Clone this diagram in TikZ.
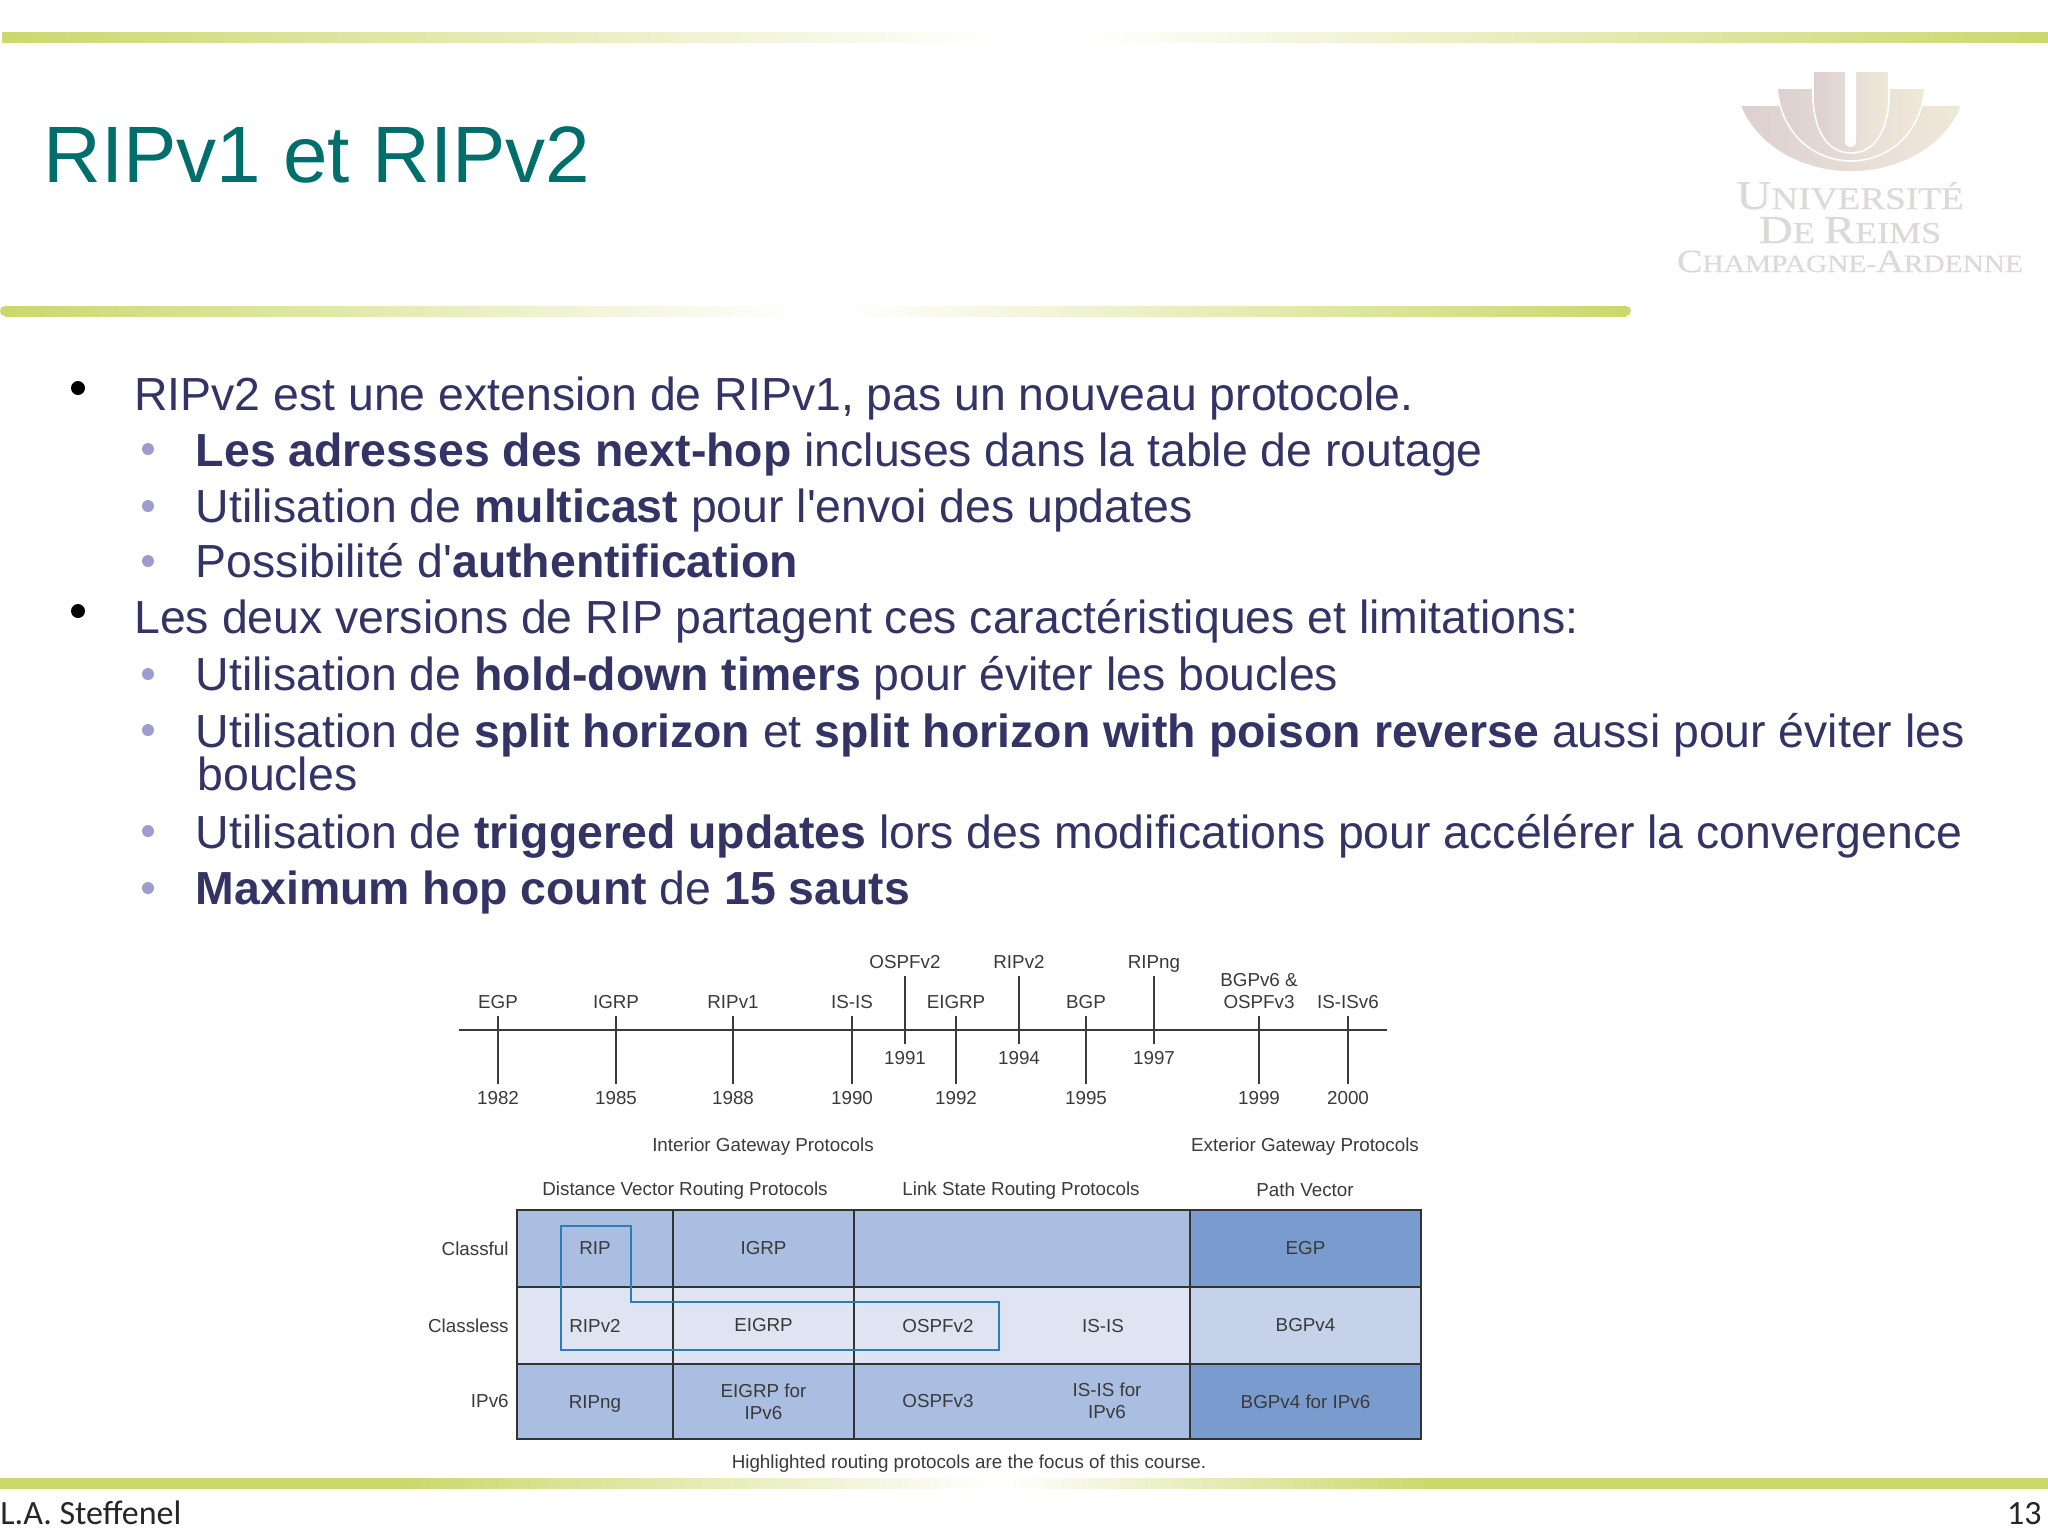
\documentclass[tikz,border=0pt]{standalone}
\usepackage{fontspec}
\setmainfont{Liberation Sans}
\newfontfamily\footfont{Carlito}
\newfontfamily\logofont[FakeStretch=1.185,FakeBold=0.6]{Liberation Serif}
\definecolor{barolive}{HTML}{CBD86C}
\definecolor{slideteal}{HTML}{006E6A}
\definecolor{slidenavy}{HTML}{333366}
\definecolor{sublav}{HTML}{9C9CCE}
\definecolor{cellmid}{HTML}{A9BEE0}
\definecolor{celllight}{HTML}{DFE4F2}
\definecolor{celldark}{HTML}{7A9BCE}
\definecolor{cellpale}{HTML}{C5D2EA}
\definecolor{hiblue}{HTML}{2A7DB5}
\definecolor{figtext}{HTML}{3A3A3A}
\definecolor{logoa}{HTML}{DDD0D0}
\definecolor{logob}{HTML}{EFE9D9}
\definecolor{logotext}{HTML}{DFD8D8}
\tikzset{
  mainline/.style={anchor=base west,inner sep=0pt,text=slidenavy,font=\fontsize{23.2}{28}\selectfont},
  maindot/.style={circle,fill=black,inner sep=0pt,minimum size=7pt},
  subdot/.style={circle,fill=sublav,inner sep=0pt,minimum size=6pt},
  figlabel/.style={inner sep=0pt,text=figtext,font=\fontsize{9.4}{11}\selectfont,align=center},
  yearlabel/.style={figlabel,minimum height=14pt},
  protolabel/.style={figlabel,anchor=south,inner ysep=3.5pt,text depth=0pt},
  tick/.style={line width=0.6pt,draw=figtext},
  cell/.style={draw=black!80,line width=0.7pt},
  logopart/.style={draw=white,line width=0.8pt,left color=logoa,right color=logob},
  logoline/.style={inner sep=0pt,anchor=base,text=logotext}
}
\newcommand{\capfont}[2]{{\logofont\fontsize{#1}{#1}\selectfont #2}}
\begin{document}
\begin{tikzpicture}[x=0.5pt,y=-0.5pt]
  \useasboundingbox (0,0) rectangle (2048,1537);
  % bars
  \fill[left color=barolive,right color=white] (2,32) rectangle (1000,42);
  \fill[left color=white,right color=barolive] (1080,32) rectangle (2048,42);
  \fill[barolive] (5,311) circle (5);
  \fill[left color=barolive,right color=white] (5,306) rectangle (800,316);
  \fill[left color=white,right color=barolive] (840,306) rectangle (1626,316);
  \fill[barolive] (1626,311) circle (5);
  \fill[left color=barolive,right color=barolive] (0,1478) rectangle (400,1488);
  \fill[left color=barolive,right color=white] (400,1478) rectangle (1000,1488);
  \fill[left color=white,right color=barolive] (1000,1478) rectangle (1430,1488);
  \fill[left color=barolive,right color=barolive] (1430,1478) rectangle (2048,1488);

  % title and logo
  \node[anchor=base west,inner sep=0pt,text=slideteal,font=\fontsize{40}{48}\selectfont] (title) at (43,182) {RIPv1 et RIPv2};
  \path[logopart] (1740,105) -- (1962,105) .. controls (1947,145) and (1902,172) .. (1851,172) .. controls (1800,172) and (1755,145) .. (1740,105) -- cycle;
  \path[logopart] (1777,88) -- (1925,88) .. controls (1920,140) and (1882,161) .. (1851,161) .. controls (1820,161) and (1782,140) .. (1777,88) -- cycle;
  \path[logopart] (1813,71) -- (1889,71) -- (1889,100) .. controls (1887,135) and (1872,153) .. (1851,153) .. controls (1830,153) and (1815,135) .. (1813,100) -- cycle;
  \fill[white,rounded corners=2.5pt] (1845,68) rectangle (1856,147);
  \node[logoline] (logo-a) at (1850,209) {\capfont{20.5}{U}\capfont{15.7}{NIVERSIT}\capfont{15.7}{É}};
  \node[logoline] (logo-b) at (1850,243) {\capfont{19.8}{D}\capfont{15.2}{E }\capfont{19.8}{R}\capfont{15.2}{EIMS}};
  \node[logoline] (logo-c) at (1850,272) {\capfont{16.2}{C}\capfont{12.4}{HAMPAGNE-}\capfont{16.2}{A}\capfont{12.4}{RDENNE}};

  % bullet text
  \node[maindot] (dot-1) at (78,388) {};
  \node[mainline] (line-1) at (134,410) {RIPv2 est une extension de RIPv1, pas un nouveau protocole.};
  \node[subdot] (dot-2) at (148,449) {};
  \node[mainline] (line-2) at (195.5,466) {\textbf{Les adresses des next-hop} incluses dans la table de routage};
  \node[subdot] (dot-3) at (148,506) {};
  \node[mainline] (line-3) at (195.5,522) {Utilisation de \textbf{multicast} pour l\textquotesingle envoi des updates};
  \node[subdot] (dot-4) at (148,561) {};
  \node[mainline] (line-4) at (195.5,577) {Possibilité d\textquotesingle\textbf{authentification}};
  \node[maindot] (dot-5) at (78,611) {};
  \node[mainline] (line-5) at (134,633) {Les deux versions de RIP partagent ces caractéristiques et limitations:};
  \node[subdot] (dot-6) at (148,674) {};
  \node[mainline] (line-6) at (195.5,690) {Utilisation de \textbf{hold-down timers} pour éviter les boucles};
  \node[subdot] (dot-7) at (148,730) {};
  \node[mainline] (line-7) at (195.5,747) {Utilisation de \textbf{split horizon} et \textbf{split horizon with poison reverse} aussi pour éviter les};
  \node[mainline] (line-7b) at (197,790) {boucles};
  \node[subdot] (dot-8) at (148,831) {};
  \node[mainline] (line-8) at (195.5,848) {Utilisation de \textbf{triggered updates} lors des modifications pour accélérer la convergence};
  \node[subdot] (dot-9) at (148,888) {};
  \node[mainline] (line-9) at (195.5,904) {\textbf{Maximum hop count} de \textbf{15 sauts}};

  % timeline
  \coordinate (axis-l) at (459,1030);
  \coordinate (axis-r) at (1387,1030);
  \draw[line width=1pt,draw=figtext] (axis-l) -- (axis-r);

  \node[protolabel] (egp) at (498,1016) {EGP};
  \node[yearlabel] (y-1982) at (498,1098) {1982};
  \node[protolabel] (igrp) at (616,1016) {IGRP};
  \node[yearlabel] (y-1985) at (616,1098) {1985};
  \node[protolabel] (ripv1) at (733,1016) {RIPv1};
  \node[yearlabel] (y-1988) at (733,1098) {1988};
  \node[protolabel] (isis) at (852,1016) {IS-IS};
  \node[yearlabel] (y-1990) at (852,1098) {1990};
  \node[protolabel] (ospfv2) at (905,976) {OSPFv2};
  \node[yearlabel] (y-1991) at (905,1058) {1991};
  \node[protolabel] (eigrp) at (956,1016) {EIGRP};
  \node[yearlabel] (y-1992) at (956,1098) {1992};
  \node[protolabel] (ripv2) at (1019,976) {RIPv2};
  \node[yearlabel] (y-1994) at (1019,1058) {1994};
  \node[protolabel] (bgp) at (1086,1016) {BGP};
  \node[yearlabel] (y-1995) at (1086,1098) {1995};
  \node[protolabel] (ripng) at (1154,976) {RIPng};
  \node[yearlabel] (y-1997) at (1154,1058) {1997};
  \node[protolabel] (bgpv6) at (1259,1016) {BGPv6 \&\\OSPFv3};
  \node[yearlabel] (y-1999) at (1259,1098) {1999};
  \node[protolabel] (isisv6) at (1348,1016) {IS-ISv6};
  \node[yearlabel] (y-2000) at (1348,1098) {2000};

  \draw[tick] (egp) -- (y-1982);
  \draw[tick] (igrp) -- (y-1985);
  \draw[tick] (ripv1) -- (y-1988);
  \draw[tick] (isis) -- (y-1990);
  \draw[tick] (ospfv2) -- (y-1991);
  \draw[tick] (eigrp) -- (y-1992);
  \draw[tick] (ripv2) -- (y-1994);
  \draw[tick] (bgp) -- (y-1995);
  \draw[tick] (ripng) -- (y-1997);
  \draw[tick] (bgpv6) -- (y-1999);
  \draw[tick] (isisv6) -- (y-2000);

  % table headings
  \node[figlabel] (head-igp) at (763,1147) {Interior Gateway Protocols};
  \node[figlabel] (head-egp) at (1305,1147) {Exterior Gateway Protocols};
  \node[figlabel] (head-dv) at (685,1191) {Distance Vector Routing Protocols};
  \node[figlabel] (head-ls) at (1021,1191) {Link State Routing Protocols};
  \node[figlabel] (head-pv) at (1305,1190) {Path Vector};

  % table cells
  \draw[cell,fill=cellmid] (517,1210) rectangle (673,1287) node[midway,figlabel] (rip) {RIP};
  \draw[cell,fill=cellmid] (673,1210) rectangle (854,1287) node[midway,figlabel] (igrp-c) {IGRP};
  \draw[cell,fill=cellmid] (854,1210) rectangle (1190,1287);
  \draw[cell,fill=celldark] (1190,1210) rectangle (1421,1287) node[midway,figlabel] (egp-c) {EGP};
  \draw[cell,fill=celllight] (517,1287) rectangle (673,1364) node[midway,figlabel] (ripv2-c) {RIPv2};
  \draw[cell,fill=celllight] (673,1287) rectangle (854,1364) node[midway,figlabel] (eigrp-c) {EIGRP};
  \draw[cell,fill=celllight] (854,1287) rectangle (1190,1364);
  \draw[cell,fill=cellpale] (1190,1287) rectangle (1421,1364) node[midway,figlabel] (bgpv4-c) {BGPv4};
  \draw[cell,fill=cellmid] (517,1364) rectangle (673,1439) node[midway,figlabel,yshift=-1pt] (ripng-c) {RIPng};
  \draw[cell,fill=cellmid] (673,1364) rectangle (854,1439) node[midway,figlabel] (eigrp6-c) {EIGRP for\\IPv6};
  \draw[cell,fill=cellmid] (854,1364) rectangle (1190,1439);
  \draw[cell,fill=celldark] (1190,1364) rectangle (1421,1439) node[midway,figlabel] (bgp6-c) {BGPv4 for IPv6};
  \node[figlabel] (ospfv2-c) at (938,1326) {OSPFv2};
  \node[figlabel] (isis-c) at (1103,1326) {IS-IS};
  \node[figlabel] (ospfv3-c) at (938,1401) {OSPFv3};
  \node[figlabel] (isis6-c) at (1107,1401) {IS-IS for\\IPv6};

  % row labels
  \node[figlabel,anchor=east] (row-1) at (509,1249) {Classful};
  \node[figlabel,anchor=east] (row-2) at (509,1326) {Classless};
  \node[figlabel,anchor=east] (row-3) at (509,1401) {IPv6};

  % highlighted protocols
  \draw[draw=hiblue,line width=0.9pt] (561,1226) -- (631,1226) -- (631,1302) -- (999,1302) -- (999,1350) -- (561,1350) -- cycle;

  \node[figlabel] (caption) at (969,1464) {Highlighted routing protocols are the focus of this course.};

  % footer
  \node[anchor=base west,inner sep=0pt,font=\footfont\fontsize{17}{20}\selectfont,text=black!85] (foot-a) at (0,1524) {L.A. Steffenel};
  \node[anchor=base east,inner sep=0pt,font=\footfont\fontsize{17}{20}\selectfont,text=black!85] (foot-b) at (2042,1524) {13};
\end{tikzpicture}
\end{document}
